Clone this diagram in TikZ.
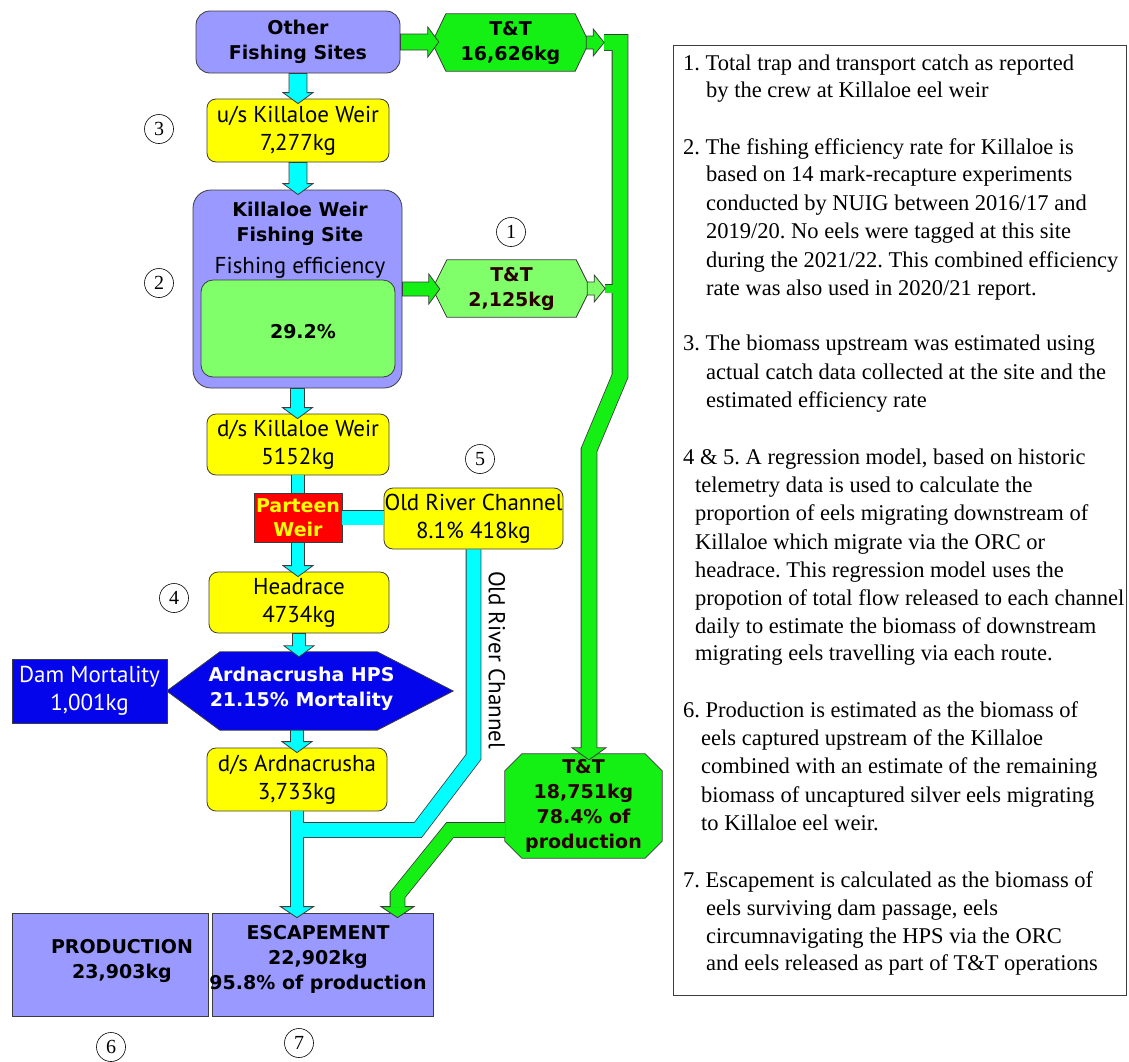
\documentclass[tikz,border=0pt]{standalone}
\usepackage{fontspec}
\setmainfont{Liberation Serif}
\newfontfamily\ptsans{PT Sans}
\newfontfamily\dvsans{DejaVu Sans}
\usetikzlibrary{calc}
\pgfdeclarelayer{bg}
\pgfsetlayers{bg,main}
\frenchspacing
\definecolor{lav}{RGB}{153,153,255}
\definecolor{yel}{RGB}{255,255,0}
\definecolor{cya}{RGB}{0,255,255}
\definecolor{grn}{RGB}{20,240,20}
\definecolor{lgrn}{RGB}{128,255,106}
\definecolor{blu}{RGB}{5,5,235}
\definecolor{bord}{RGB}{60,60,60}
\definecolor{brn}{RGB}{45,0,0}
\newcommand\regf{\ptsans\fontsize{23}{28}\selectfont}
\newcommand\bldf{\dvsans\bfseries\fontsize{19}{25}\selectfont}
\newcommand\notef{\rmfamily\fontsize{22.5}{28}\selectfont}
\newcommand\numf{\rmfamily\fontsize{20}{20}\selectfont}
% down block arrow: colour, from point, to point, half shaft, half head
\newcommand\darrow[5]{\draw[blk,fill=#1] let \p1=#2, \p2=#3 in (\x1-#4pt,\y1) -- (\x1-#4pt,\y2+6pt) -- (\x1-#5pt,\y2+6pt) -- (\x1,\y2-5pt) -- (\x1+#5pt,\y2+6pt) -- (\x1+#4pt,\y2+6pt) -- (\x1+#4pt,\y1) -- cycle;}
% right block arrow
\newcommand\rarrow[5]{\draw[blk,fill=#1] let \p1=#2, \p2=#3 in (\x1,\y1+#4pt) -- (\x2-6pt,\y1+#4pt) -- (\x2-6pt,\y1+#5pt) -- (\x2+5pt,\y1) -- (\x2-6pt,\y1-#5pt) -- (\x2-6pt,\y1-#4pt) -- (\x1,\y1-#4pt) -- cycle;}
% outgoing arrow on the right of a T&T node
\newcommand\oarrow[2]{\draw[blk,fill=#2] let \p1=(#1.east) in (\x1-1pt,\y1+6.5pt) -- (\x1+6pt,\y1+6.5pt) -- (\x1+6pt,\y1+13.5pt) -- (\x1+17pt,\y1) -- (\x1+6pt,\y1-13.5pt) -- (\x1+6pt,\y1-6.5pt) -- (\x1-1pt,\y1-6.5pt) -- cycle;}
% downward head at the end of a channel
\newcommand\dhead[4]{\draw[blk,fill=#4] ($#1+(-#2,0)$) -- ($#1+(#2,0)$) -- ($#1+(0,#3)$) -- cycle;}
\newcommand\nline[4]{\node[anchor=base west,font=\notef,inner sep=0pt] (#1) at (#2,#3) {#4};}
\begin{document}
\begin{tikzpicture}[x=1pt,y=-1pt,
  blk/.style={draw=bord,line width=0.8pt},
  shp/.style={inner sep=0pt,align=center},
  ybox/.style={shp,draw=bord,line width=0.8pt,fill=yel,rounded corners=9pt,font=\regf},
  lbox/.style={shp,draw=bord,line width=0.8pt,fill=lav,font=\bldf},
  numc/.style={circle,draw=black,line width=0.6pt,minimum size=29pt,inner sep=0pt,font=\numf},
  ttnode/.style={shp,font=\bldf,text=brn}]
\useasboundingbox (0,0) rectangle (1129,1061);

% ---------- main nodes ----------
\node[lbox,rounded corners=14pt,minimum width=204pt,minimum height=62pt] (other) at (298,42) {Other\\Fishing Sites};
\node[ybox,minimum width=182pt,minimum height=63pt] (us) at (298,130.5) {u/s Killaloe Weir\\7,277kg};
\node[lbox,rounded corners=18pt,minimum width=209pt,minimum height=198pt] (kw) at (297.5,289) {};
\node[shp,draw=bord,line width=0.8pt,fill=lgrn,rounded corners=12pt,minimum width=194pt,minimum height=97pt] (eff) at (298,328.5) {};
\node[shp,font=\bldf] (kwt) at (300,223.5) {Killaloe Weir\\Fishing Site};
\node[shp,font=\regf] (efft) at (300,268) {Fishing efficiency};
\node[shp,font=\bldf] (effv) at (303,332) {29.2\%};
\node[ybox,minimum width=182pt,minimum height=61pt] (ds) at (298,444.5) {d/s Killaloe Weir\\5152kg};
\node[shp,draw=bord,line width=0.8pt,fill=red,text=yel,font=\dvsans\bfseries\fontsize{19}{24}\selectfont,minimum width=88pt,minimum height=49pt] (pw) at (298,517.5) {Parteen\\Weir};
\node[ybox,minimum width=179pt,minimum height=61pt] (orc) at (473.5,518.5) {Old River Channel\\8.1\% 418kg};
\node[ybox,minimum width=180pt,minimum height=61pt] (hr) at (299,602.5) {Headrace\\4734kg};
\node[shp,minimum width=286pt,minimum height=78pt] (hps) at (310,691) {};
\node[shp,font=\bldf,text=white] (hpst) at (301.5,689) {Ardnacrusha HPS\\21.15\% Mortality};
\node[shp,draw=bord,line width=0.8pt,fill=blu,text=white,font=\regf,minimum width=155pt,minimum height=64pt] (dam) at (89.5,691) {Dam Mortality\\1,001kg};
\node[ybox,minimum width=180pt,minimum height=63pt] (dsa) at (297,779.5) {d/s Ardnacrusha\\3,733kg};
\node[lbox,minimum width=196pt,minimum height=103pt] (prod) at (110,964.5) {};
\node[shp,font=\bldf] (prodt) at (122,960.5) {PRODUCTION\\23,903kg};
\node[lbox,minimum width=221pt,minimum height=103pt] (esc) at (322.5,964.5) {};
\node[shp,font=\bldf] (esct) at (318,959.5) {ESCAPEMENT\\22,902kg\\95.8\% of production};

% T&T nodes (shapes drawn on background layer)
\node[ttnode,text=black,minimum width=153pt,minimum height=57pt] (tt1) at (510.5,42.5) {T\&T\\16,626kg};
\node[ttnode,minimum width=153pt,minimum height=57pt] (tt2) at (511.5,288.5) {T\&T\\2,125kg};
\node[ttnode,minimum width=157pt,minimum height=104pt] (tt3) at (583.5,806) {T\&T\\18,751kg\\78.4\% of\\production};

\node[shp,font=\regf,rotate=-90] (orcv) at (497,660) {Old River Channel};

\begin{pgfonlayer}{bg}
\draw[blk,fill=grn] ($(tt1.north west)+(12,0)$) -- ($(tt1.north east)+(-12,0)$) -- ($(tt1.north east)+(0,25)$) -- ($(tt1.south east)+(0,-25)$) -- ($(tt1.south east)+(-12,0)$) -- ($(tt1.south west)+(12,0)$) -- ($(tt1.south west)+(0,-25)$) -- ($(tt1.north west)+(0,25)$) -- cycle;
\draw[blk,fill=lgrn] ($(tt2.north west)+(12,0)$) -- ($(tt2.north east)+(-12,0)$) -- ($(tt2.north east)+(0,24)$) -- ($(tt2.south east)+(0,-24)$) -- ($(tt2.south east)+(-12,0)$) -- ($(tt2.south west)+(12,0)$) -- ($(tt2.south west)+(0,-24)$) -- ($(tt2.north west)+(0,24)$) -- cycle;
\draw[blk,fill=grn] ($(tt3.north west)+(17,0)$) -- ($(tt3.north east)+(-17,0)$) -- ($(tt3.north east)+(0,17)$) -- ($(tt3.south east)+(0,-17)$) -- ($(tt3.south east)+(-17,0)$) -- ($(tt3.south west)+(17,0)$) -- ($(tt3.south west)+(0,-17)$) -- ($(tt3.north west)+(0,17)$) -- cycle;
\draw[blk,fill=blu] (hps.west) -- ($(hps.north west)+(53,0)$) -- ($(hps.north east)+(-76,0)$) -- (hps.east) -- ($(hps.south east)+(-76,0)$) -- ($(hps.south west)+(53,0)$) -- cycle;
\end{pgfonlayer}

% ---------- straight block arrows ----------
\darrow{cya}{(other.south)}{(us.north)}{9}{15}
\darrow{cya}{(us.south)}{(kw.north)}{9}{15}
\darrow{cya}{(kw.south)}{(ds.north)}{7}{15}
\darrow{cya}{(pw.south)}{(hr.north)}{6.5}{15}
\darrow{cya}{(hr.south)}{(hps.north)}{6.5}{15}
\darrow{cya}{(dsa.north |- hps.south)}{(dsa.north)}{6.5}{15}
\rarrow{grn}{(other.east)}{(tt1.west)}{8}{15}
\rarrow{grn}{(kw.east)}{(tt2.west)}{7}{15}

% ---------- channels ----------
\coordinate (g0) at ($(tt1.east)+(17,0)$);
\coordinate (g1) at ($(tt3.north)+(5.5,-6)$);
\coordinate (b0) at ($(tt2.east)+(17,0)$);
\coordinate (e0) at ($(tt3.west)+(0,24)$);
\coordinate (e1) at ($(esc.north)+(75,-6)$);
\coordinate (o1) at ($(dsa.north |- esc.north)+(0,-6)$);
% borders
\draw[bord,line width=16.6pt] (g0) -- (620,42.5) -- (620,376) -- (589,450) -- ($(g1)+(0,1)$);
\draw[bord,line width=9.6pt] (b0) -- (620,288.5);
\draw[bord,line width=15.6pt] (e0) -- (450,830) -- (397.5,895) -- ($(e1)+(0,1)$);
\draw[bord,line width=15.6pt] (orc.south) -- (473.5,757) -- (418,830) -- (297,830);
\draw[bord,line width=13.6pt] (dsa.south) -- ($(o1)+(0,1)$);
\draw[bord,line width=15.6pt] (pw.east) -- (pw.east -| orc.west);
\draw[bord,line width=13.6pt] (ds.south) -- (pw.north);
% heads
\dhead{(g1)}{17}{12}{grn}
\dhead{(e1)}{16.5}{11}{grn}
\dhead{(o1)}{16.5}{11}{cya}
% fills
\draw[grn,line width=15pt] (g0) -- (620,42.5) -- (620,376) -- (589,450) -- ($(g1)+(0,1)$);
\draw[grn,line width=8pt] (b0) -- (620,288.5);
\draw[grn,line width=14pt] (e0) -- (450,830) -- (397.5,895) -- ($(e1)+(0,1)$);
\draw[cya,line width=14pt] (orc.south) -- (473.5,757) -- (418,830) -- (297,830);
\draw[cya,line width=12pt] (dsa.south) -- ($(o1)+(0,1)$);
\draw[cya,line width=14pt] (pw.east) -- (pw.east -| orc.west);
\draw[cya,line width=12pt] (ds.south) -- (pw.north);
\oarrow{tt1}{grn}
\oarrow{tt2}{lgrn}

% ---------- number circles ----------
\node[numc] (c1) at (511,232) {1};
\node[numc] (c2) at (159,283) {2};
\node[numc] (c3) at (159,129) {3};
\node[numc] (c4) at (174,598) {4};
\node[numc] (c5) at (480,459) {5};
\node[numc] (c6) at (111,1047) {6};
\node[numc] (c7) at (299,1043) {7};

% ---------- notes ----------
\node[draw=bord,line width=0.9pt,minimum width=453pt,minimum height=950pt,inner sep=0pt] (notes) at (899.5,520) {};
\nline{n1a}{683}{70.5}{1. Total trap and transport catch as reported}
\nline{n1b}{706}{97.5}{by the crew at Killaloe eel weir}
\nline{n2a}{683}{154.5}{2. The fishing efficiency rate for Killaloe is}
\nline{n2b}{706}{181.5}{based on 14 mark-recapture experiments}
\nline{n2c}{706}{210.5}{conducted by NUIG between 2016/17 and}
\nline{n2d}{706}{238.5}{2019/20. No eels were tagged at this site}
\nline{n2e}{706}{267.5}{during the 2021/22. This combined efficiency}
\nline{n2f}{706}{295.5}{rate was also used in 2020/21 report.}
\nline{n3a}{683}{350.5}{3. The biomass upstream was estimated using}
\nline{n3b}{706}{379.5}{actual catch data collected at the site and the}
\nline{n3c}{706}{407.5}{estimated efficiency rate}
\nline{n4a}{683}{464.5}{4 \& 5. A regression model, based on historic}
\nline{n4b}{695}{492.5}{telemetry data is used to calculate the}
\nline{n4c}{695}{520.5}{proportion of eels migrating downstream of}
\nline{n4d}{695}{549.5}{Killaloe which migrate via the ORC or}
\nline{n4e}{695}{577.5}{headrace. This regression model uses the}
\nline{n4f}{695}{605.5}{propotion of total flow released to each channel}
\nline{n4g}{695}{633.5}{daily to estimate the biomass of downstream}
\nline{n4h}{695}{660.5}{migrating eels travelling via each route.}
\nline{n6a}{683}{717.5}{6. Production is estimated as the biomass of}
\nline{n6b}{701}{745.5}{eels captured upstream of the Killaloe}
\nline{n6c}{701}{773.5}{combined with an estimate of the remaining}
\nline{n6d}{701}{802.5}{biomass of uncaptured silver eels migrating}
\nline{n6e}{701}{830.5}{to Killaloe eel weir.}
\nline{n7a}{683}{887.5}{7. Escapement is calculated as the biomass of}
\nline{n7b}{706}{915.5}{eels surviving dam passage, eels}
\nline{n7c}{706}{943.5}{circumnavigating the HPS via the ORC}
\nline{n7d}{706}{970.5}{and eels released as part of T\&T operations}
\end{tikzpicture}
\end{document}
